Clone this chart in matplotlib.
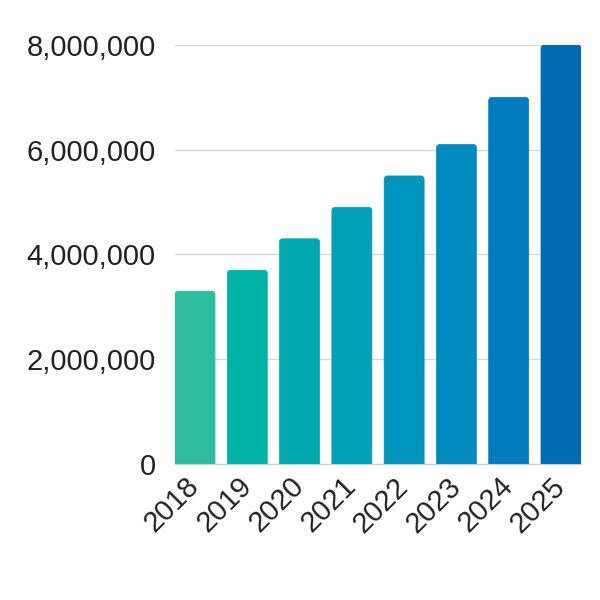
import matplotlib
matplotlib.use('Agg')
import matplotlib.pyplot as plt
from matplotlib.patches import FancyBboxPatch
from matplotlib.ticker import FuncFormatter

years = ['2018', '2019', '2020', '2021', '2022', '2023', '2024', '2025']
values = [3300000, 3700000, 4300000, 4900000, 5500000, 6100000, 7000000, 8000000]
colors = ['#2ebd9e', '#00b2a6', '#00a8b0', '#00a0b8', '#0095bc', '#008abf', '#007bbf', '#006bb5']

plt.rcParams['font.family'] = ['Liberation Sans', 'DejaVu Sans']

fig = plt.figure(figsize=(6, 6), dpi=100)
ax = fig.add_axes([0.2917, 0.2267, 0.6766, 0.6983])

bar_w = 0.765
ax.set_xlim(-bar_w / 2, len(years) - 1 + bar_w / 2)
ax.set_ylim(0, 8000000)

# rounded tops, bottom pushed below 0 so it gets clipped square
aspect = 1.0e6
for i, v in enumerate(values):
    box = FancyBboxPatch((i - bar_w / 2, -300000), bar_w, v + 300000,
                         boxstyle='round,pad=0,rounding_size=0.06',
                         mutation_aspect=aspect,
                         facecolor=colors[i], edgecolor=colors[i], linewidth=0.5)
    ax.add_patch(box)

ax.set_yticks([0, 2000000, 4000000, 6000000, 8000000])
ax.yaxis.set_major_formatter(FuncFormatter(lambda x, p: f'{int(x):,}'))
ax.set_xticks(range(len(years)))
ax.set_xticklabels(years, rotation=45, ha='right', va='center', rotation_mode='anchor')

ax.grid(axis='y', color='#d9d9d9', linewidth=1)
ax.set_axisbelow(True)
for s in ['left', 'right', 'top']:
    ax.spines[s].set_visible(False)
ax.spines['bottom'].set_color('#cccccc')
ax.spines['bottom'].set_zorder(5)
ax.tick_params(axis='both', length=0, labelsize=21, colors='#222222')
ax.tick_params(axis='y', pad=14)
ax.tick_params(axis='x', pad=13)

fig.savefig('out.png', dpi=100)
